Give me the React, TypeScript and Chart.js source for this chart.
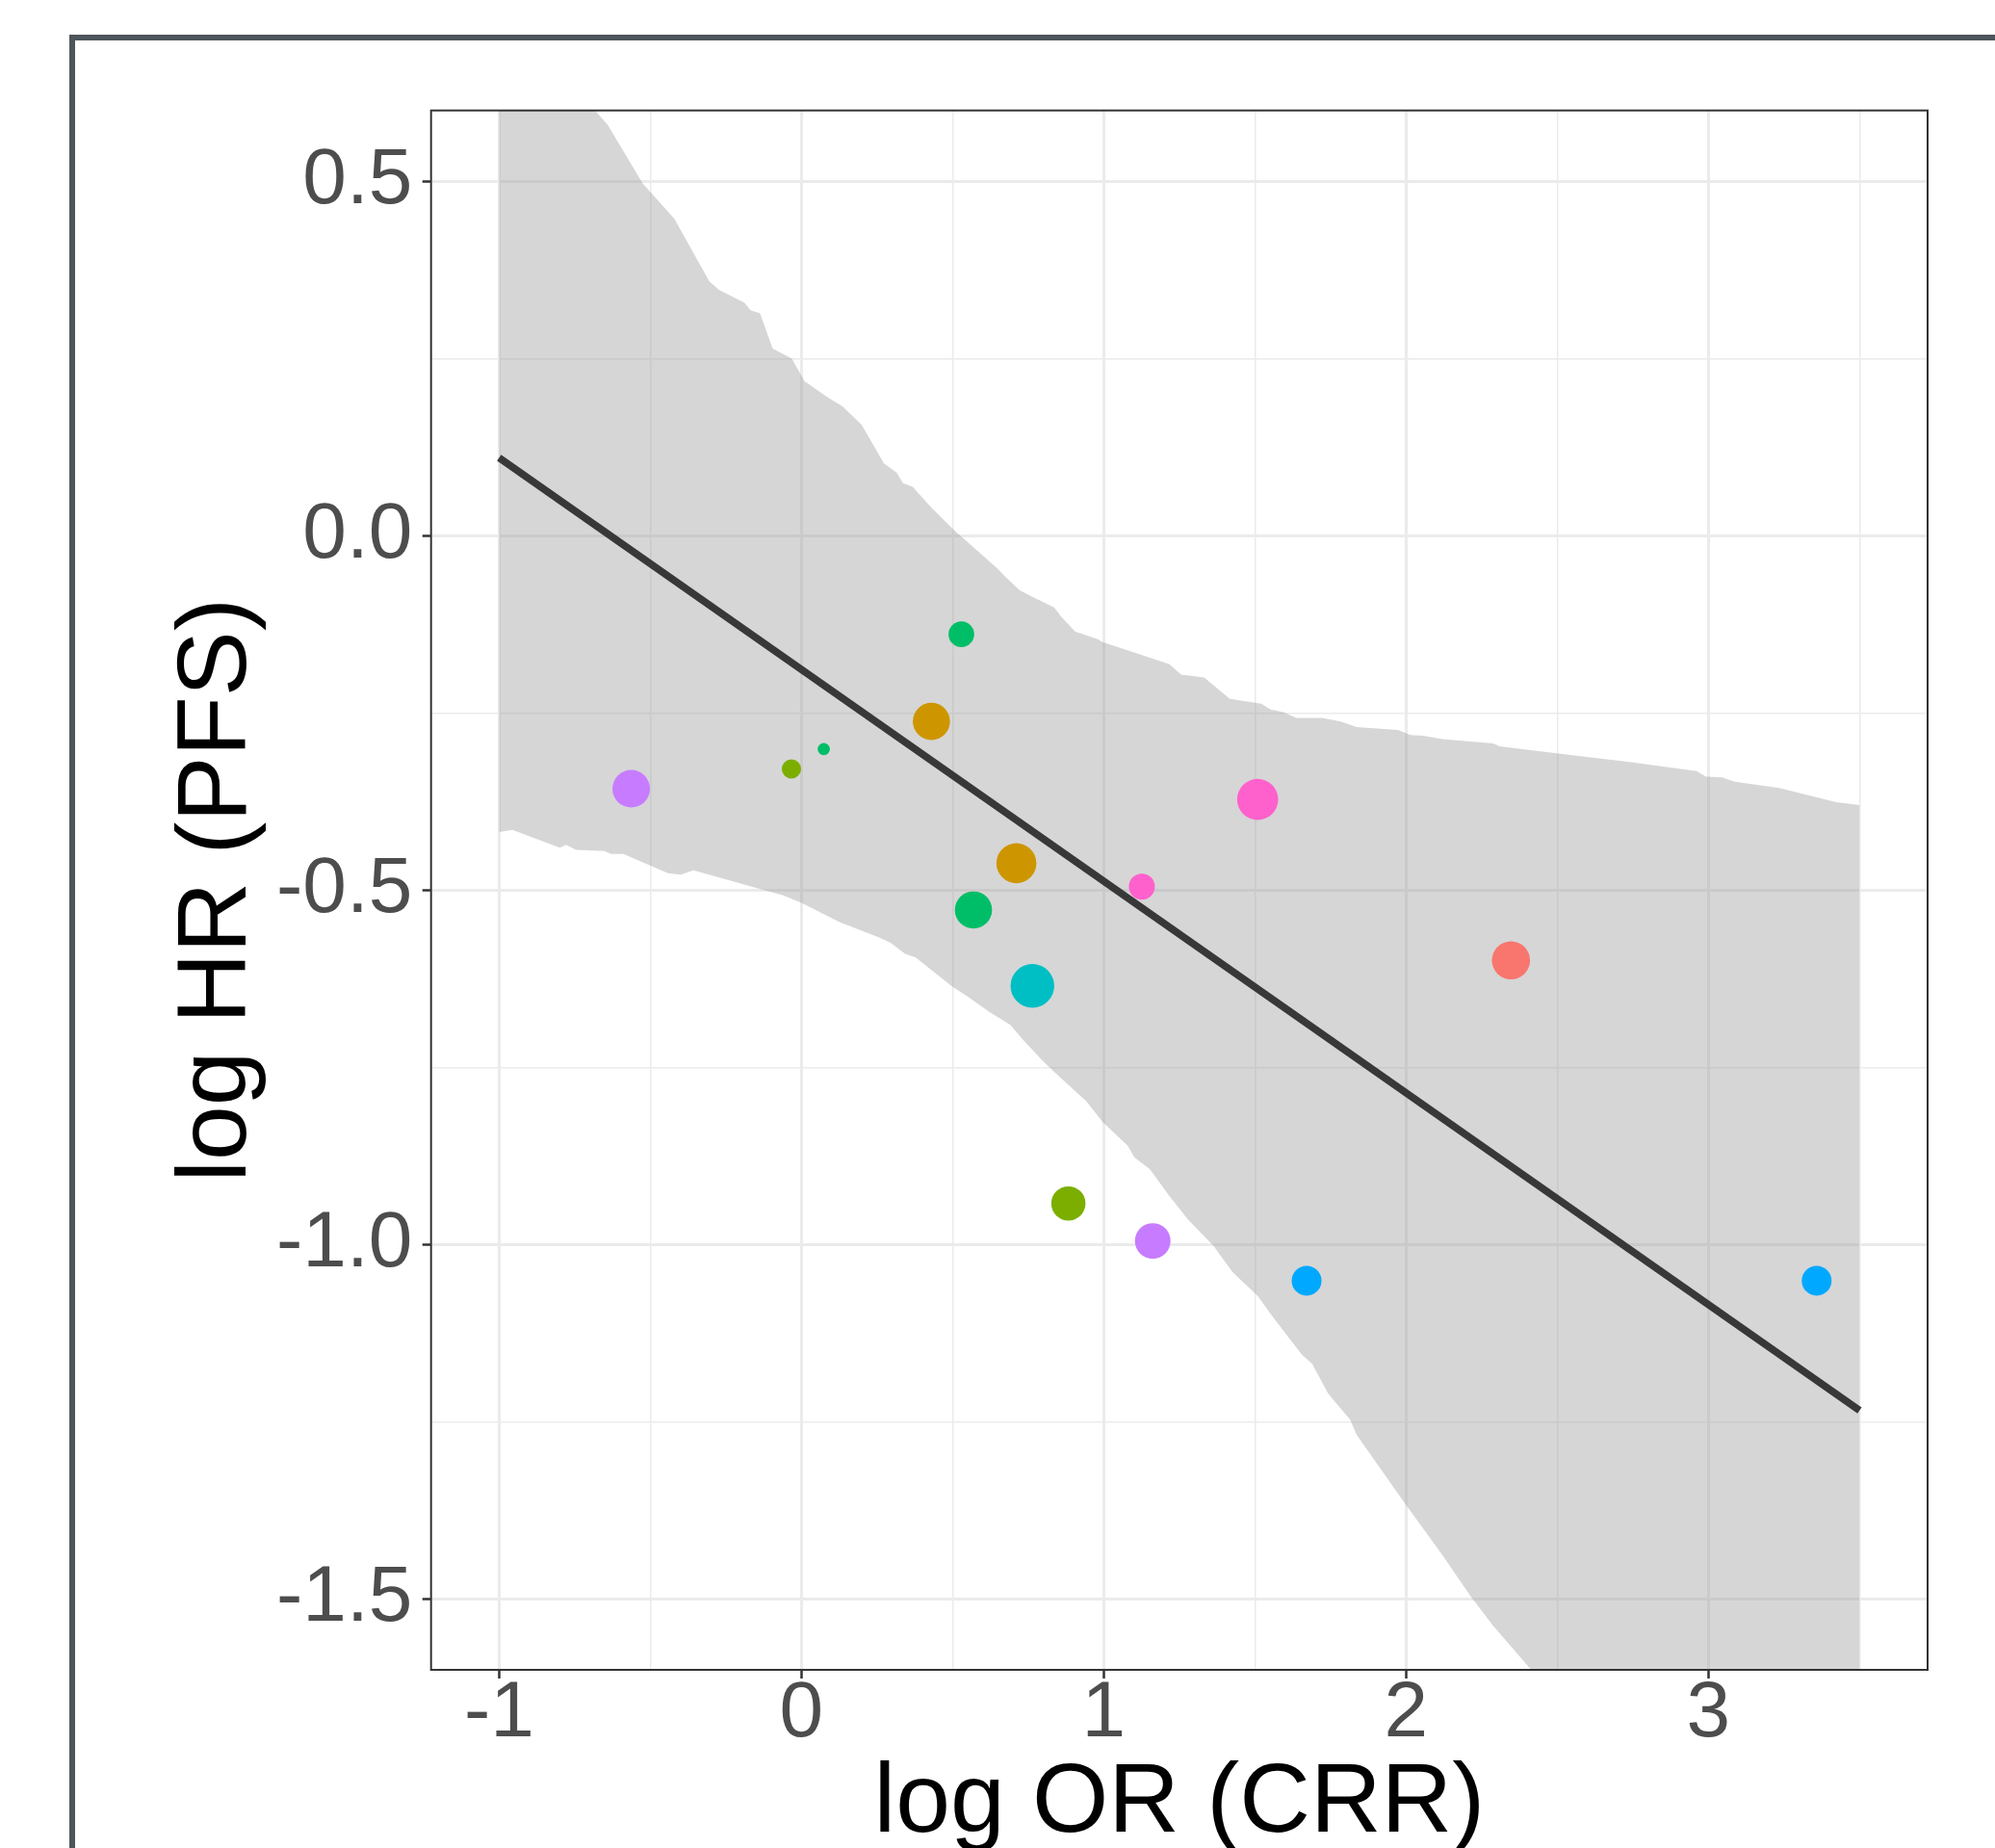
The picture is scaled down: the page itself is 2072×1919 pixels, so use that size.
import React, { useEffect, useRef } from "react";
import { Chart, registerables } from "chart.js";

Chart.register(...registerables);

// ---------- data ----------
// individual studies
const studyX = [-0.563, -0.033, 0.074, 0.529, 0.43, 0.711, 0.569, 0.764, 1.126, 1.509, 0.883, 1.162, 1.671, 2.347, 3.358];
const studyY = [-0.357, -0.329, -0.301, -0.139, -0.262, -0.462, -0.528, -0.635, -0.495, -0.372, -0.942, -0.995, -1.051, -0.599, -1.051];
const studyWeight = [23.8, 6.3, 2.5, 11.1, 23.3, 27.0, 23.3, 32.2, 11.4, 28.4, 19.8, 21.4, 15.0, 24.5, 15.0];
const studyGroup = [6, 2, 3, 3, 1, 1, 3, 4, 7, 7, 2, 6, 5, 0, 5];

// fitted regression line (end points)
const fitX = [-1, 3.5];
const fitY = [0.11, -1.234];

// confidence band, upper edge
const upperX = [-1.0, -0.683, -0.641, -0.525, -0.42, -0.305, -0.273, -0.189, -0.168, -0.137, -0.095, -0.032, 0.01, 0.084, 0.137, 0.2, 0.273, 0.315, 0.336, 0.368, 0.431, 0.505, 0.648, 0.67, 0.722, 0.767, 0.836, 0.859, 0.905, 0.98, 0.996, 1.216, 1.256, 1.332, 1.416, 1.458, 1.521, 1.552, 1.594, 1.637, 1.721, 1.784, 1.836, 1.973, 2.015, 2.057, 2.12, 2.288, 2.309, 2.498, 2.751, 2.961, 2.992, 3.045, 3.087, 3.234, 3.423, 3.5];
const upperY = [0.84, 0.6, 0.58, 0.497, 0.447, 0.359, 0.347, 0.329, 0.318, 0.314, 0.264, 0.25, 0.218, 0.196, 0.182, 0.156, 0.102, 0.089, 0.074, 0.069, 0.039, 0.008, -0.046, -0.056, -0.077, -0.087, -0.101, -0.114, -0.135, -0.146, -0.15, -0.181, -0.196, -0.2, -0.23, -0.233, -0.237, -0.245, -0.249, -0.257, -0.257, -0.262, -0.27, -0.274, -0.281, -0.282, -0.287, -0.293, -0.297, -0.307, -0.32, -0.332, -0.34, -0.341, -0.347, -0.356, -0.376, -0.38];

// confidence band, lower edge
const lowerX = [-1.0, -0.956, -0.799, -0.778, -0.746, -0.651, -0.63, -0.589, -0.441, -0.399, -0.357, -0.147, -0.063, 0.0, 0.126, 0.253, 0.294, 0.343, 0.378, 0.428, 0.502, 0.546, 0.619, 0.691, 0.733, 0.796, 0.848, 0.943, 0.996, 1.08, 1.101, 1.153, 1.216, 1.279, 1.363, 1.426, 1.51, 1.552, 1.626, 1.657, 1.689, 1.742, 1.815, 1.836, 1.994, 2.12, 2.215, 2.288, 2.414, 3.5];
const lowerY = [-0.418, -0.415, -0.44, -0.436, -0.443, -0.445, -0.449, -0.449, -0.476, -0.478, -0.472, -0.497, -0.507, -0.518, -0.545, -0.566, -0.574, -0.59, -0.595, -0.612, -0.637, -0.649, -0.671, -0.69, -0.711, -0.74, -0.761, -0.798, -0.827, -0.861, -0.877, -0.894, -0.931, -0.965, -1.002, -1.039, -1.073, -1.098, -1.139, -1.156, -1.168, -1.21, -1.247, -1.268, -1.364, -1.438, -1.497, -1.538, -1.6, -2.15];

// axis ticks (major + minor grid positions)
const xTicks = [-1, -0.5, 0, 0.5, 1, 1.5, 2, 2.5, 3, 3.5];
const yTicks = [-1.5, -1.25, -1, -0.75, -0.5, -0.25, 0, 0.25, 0.5];

// ---------- styles ----------
const palette = ["#F8766D", "#CD9600", "#7CAE00", "#00BE67", "#00BFC4", "#00A9FF", "#C77CFF", "#FF61CC"];
const FONT = "'Liberation Sans', Arial, Helvetica, sans-serif";
const radiusOf = (w: number) => 4 * Math.sqrt(w);

const isMult = (v: number, step: number) => Math.abs(v / step - Math.round(v / step)) < 1e-9;

export default function App() {
  const ref = useRef<HTMLCanvasElement>(null);

  useEffect(() => {
    const canvas = ref.current;
    if (!canvas) return;
    const zip = (xs: number[], ys: number[]) => xs.map((x, i) => ({ x, y: ys[i] }));

    const panelBorder = {
      id: "panelBorder",
      afterDraw(chart: any) {
        const { ctx, chartArea: a } = chart;
        ctx.save();
        ctx.strokeStyle = "#333333";
        ctx.lineWidth = 2;
        ctx.strokeRect(a.left, a.top, a.right - a.left, a.bottom - a.top);
        ctx.restore();
      },
    };

    const chart = new Chart(canvas, {
      type: "scatter",
      data: {
        datasets: [
          {
            type: "line",
            label: "upper",
            data: zip(upperX, upperY),
            borderColor: "rgba(0,0,0,0)",
            borderWidth: 0,
            pointRadius: 0,
            tension: 0,
            fill: "+1",
            backgroundColor: "rgba(153,153,153,0.4)",
            order: 2,
          },
          {
            type: "line",
            label: "lower",
            data: zip(lowerX, lowerY),
            borderColor: "rgba(0,0,0,0)",
            borderWidth: 0,
            pointRadius: 0,
            tension: 0,
            fill: false,
            order: 2,
          },
          {
            type: "line",
            label: "fit",
            data: zip(fitX, fitY),
            borderColor: "#383838",
            borderWidth: 7.5,
            pointRadius: 0,
            tension: 0,
            fill: false,
            order: 1,
          },
          {
            type: "scatter",
            label: "studies",
            data: zip(studyX, studyY),
            pointRadius: studyWeight.map(radiusOf),
            pointBackgroundColor: studyGroup.map((g) => palette[g]),
            backgroundColor: studyGroup.map((g) => palette[g]),
            pointBorderWidth: 0,
            borderWidth: 0,
            order: 0,
          },
        ] as any,
      },
      options: {
        animation: false,
        responsive: false,
        devicePixelRatio: 1,
        layout: { padding: { left: 0, top: 114.7, right: 70, bottom: 0 } },
        plugins: { legend: { display: false }, tooltip: { enabled: false } },
        scales: {
          x: {
            type: "linear",
            position: "bottom",
            min: -1.225,
            max: 3.725,
            afterBuildTicks: (s: any) => {
              s.ticks = xTicks.map((v) => ({ value: v }));
            },
            afterFit: (s: any) => {
              s.height = 185;
            },
            border: { display: false },
            grid: {
              color: "#ebebeb",
              lineWidth: (c: any) => (c.tick && isMult(c.tick.value, 1) ? 3 : 1.5),
              tickColor: (c: any) => (c.tick && isMult(c.tick.value, 1) ? "#333333" : "rgba(0,0,0,0)"),
              tickLength: 9,
              tickWidth: 2.5,
            },
            ticks: {
              autoSkip: false,
              maxRotation: 0,
              minRotation: 0,
              padding: 3,
              color: "#4d4d4d",
              font: { size: 82, family: FONT, lineHeight: 0.85 },
              callback: (v: any) => (isMult(Number(v), 1) ? String(Math.round(Number(v))) : ""),
            },
            title: {
              display: true,
              text: "log OR (CRR)",
              color: "#000000",
              font: { size: 102, family: FONT, lineHeight: 0.8 },
              padding: { top: 0, bottom: 4 },
            },
          },
          y: {
            type: "linear",
            position: "left",
            min: -1.6,
            max: 0.6,
            afterBuildTicks: (s: any) => {
              s.ticks = yTicks.map((v) => ({ value: v }));
            },
            afterFit: (s: any) => {
              s.width = 447.7;
            },
            border: { display: false },
            grid: {
              color: "#ebebeb",
              lineWidth: (c: any) => (c.tick && isMult(c.tick.value, 0.5) ? 3 : 1.5),
              tickColor: (c: any) => (c.tick && isMult(c.tick.value, 0.5) ? "#333333" : "rgba(0,0,0,0)"),
              tickLength: 9,
              tickWidth: 2.5,
            },
            ticks: {
              autoSkip: false,
              padding: 10.4,
              color: "#4d4d4d",
              font: { size: 82, family: FONT, lineHeight: 1.2 },
              callback: (v: any) => (isMult(Number(v), 0.5) ? Number(v).toFixed(1) : ""),
            },
            title: {
              display: true,
              text: "log HR (PFS)",
              color: "#000000",
              font: { size: 102, family: FONT, lineHeight: 0.8 },
              padding: { top: 186, bottom: 0 },
            },
          },
        },
      } as any,
      plugins: [panelBorder],
    });

    return () => chart.destroy();
  }, []);

  return (
    <div
      style={{
        position: "absolute",
        left: 0,
        top: 0,
        width: 2072,
        height: 1919,
        overflow: "hidden",
        background: "#ffffff",
      }}
    >
      <div
        style={{
          position: "absolute",
          left: 72,
          top: 36,
          width: 3000,
          height: 3000,
          border: "6px solid #4e555b",
          boxSizing: "border-box",
        }}
      />
      <canvas
        ref={ref}
        width={2072}
        height={1919}
        style={{ position: "absolute", left: 0, top: 0, width: 2072, height: 1919 }}
      />
    </div>
  );
}
